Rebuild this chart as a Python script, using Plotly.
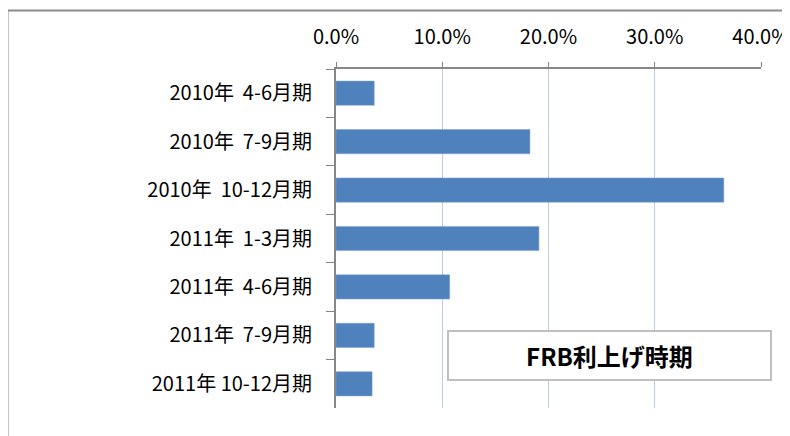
import plotly.graph_objects as go

categories = ["2010年  4-6月期", "2010年  7-9月期", "2010年  10-12月期", "2011年  1-3月期",
              "2011年  4-6月期", "2011年  7-9月期", "2011年 10-12月期"]
values = [0.036, 0.1825, 0.365, 0.191, 0.107, 0.036, 0.034]
tick_vals = [0, 0.1, 0.2, 0.3, 0.4]
box_text = "FRB利上げ時期"

# page body has an 8px margin: work in viewport coordinates, shift by OFF
OFF = 8
W, H = 790, 436
PL, PR, PT, PB = 336, 761, 69, 408  # plot area in viewport px
L = PL - OFF
T = PT - OFF
R = W - (PR - OFF)
B = H - (PB - OFF)
pw, ph = PR - PL, PB - PT

def px(x):
    return (x - PL) / pw

def py(y):
    return (PB - y) / ph

font = "Noto Sans CJK JP"

fig = go.Figure(go.Bar(
    y=categories, x=values, orientation="h",
    marker=dict(color="#4f81bd", line=dict(color="#7fa3d3", width=0.5)),
    width=0.5,
))

fig.update_layout(
    width=W, height=H,
    margin=dict(l=L, r=R, t=T, b=B, autoexpand=False),
    paper_bgcolor="white", plot_bgcolor="white",
    showlegend=False,
    font=dict(family=font, size=20, color="#000000"),
    xaxis=dict(
        side="top", range=[0, 0.4], tickvals=tick_vals, tickformat=".1%",
        showgrid=True, gridcolor="#b9cde5", gridwidth=1,
        showline=True, linecolor="#868686", linewidth=2,
        ticks="outside", ticklen=5, tickcolor="#868686", tickwidth=1,
        ticklabelstandoff=10, zeroline=False, fixedrange=True, automargin=False,
    ),
    yaxis=dict(
        type="category", autorange="reversed",
        showline=True, linecolor="#868686", linewidth=2,
        ticks="outside", ticklen=8, tickcolor="#868686", tickwidth=1,
        tickson="boundaries", showgrid=False, ticklabelstandoff=18,
        fixedrange=True, automargin=False,
    ),
    shapes=[
        dict(type="line", xref="paper", yref="paper", x0=px(7), x1=px(800), y0=py(10.5), y1=py(10.5),
             line=dict(color="#8c8c8c", width=2)),
        dict(type="line", xref="paper", yref="paper", x0=px(7.5), x1=px(7.5), y0=py(10), y1=py(440),
             line=dict(color="#8c8c8c", width=2)),
    ],
    annotations=[
        dict(text="<b>" + box_text + "</b>", xref="paper", yref="paper",
             x=px(609.5), y=py(355.5), xanchor="center", yanchor="middle",
             showarrow=False, width=321, height=47,
             bgcolor="white", bordercolor="#bfbfbf", borderwidth=2, borderpad=0,
             font=dict(size=24, family=font, color="#000000")),
    ],
)

fig.write_html("out.html")
